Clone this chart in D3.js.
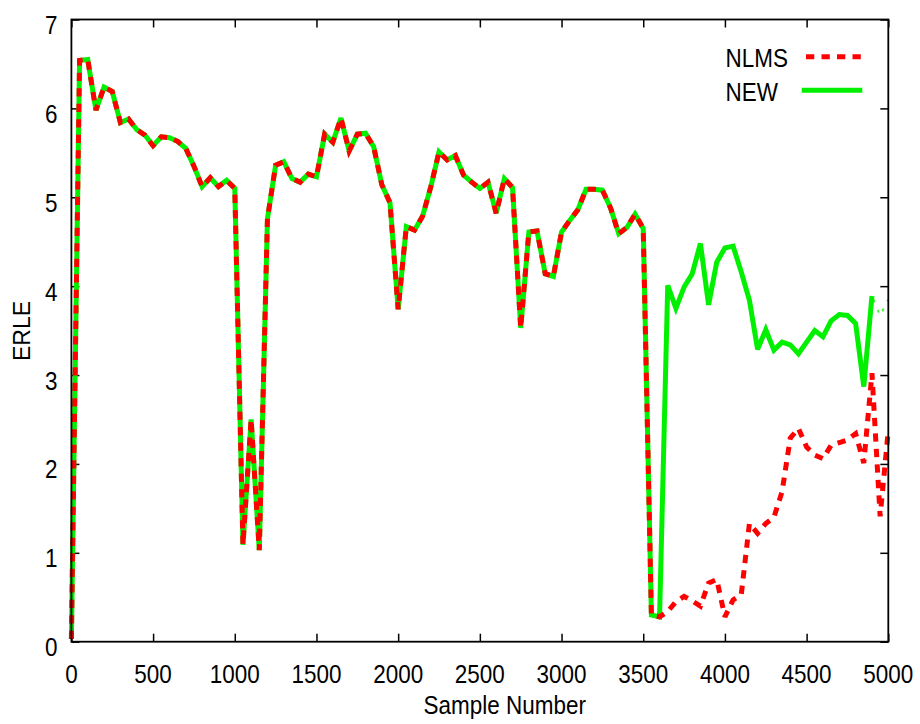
<!DOCTYPE html>
<html><head><meta charset="utf-8">
<script src="https://cdn.jsdelivr.net/npm/d3@7"></script>
<style>
body{margin:0;background:#fff}
svg{display:block}
text{font-family:"Liberation Sans",Arial,Helvetica,sans-serif;fill:#000}
</style>
</head><body>
<svg id="chart" width="920" height="724"></svg>
<script>
// ---- data ----
const sampleNumbers = [0,50,100,150,200,250,300,350,400,450,500,550,600,650,700,750,800,850,900,950,
  1000,1050,1100,1150,1200,1250,1300,1350,1400,1450,1500,1550,1600,1650,1700,1750,1800,1850,1900,1950,
  2000,2050,2100,2150,2200,2250,2300,2350,2400,2450,2500,2550,2600,2650,2700,2750,2800,2850,2900,2950,
  3000,3050,3100,3150,3200,3250,3300,3350,3400,3450,3500,3550,3600,3650,3700,3750,3800,3850,3900,3950,
  4000,4050,4100,4150,4200,4250,4300,4350,4400,4450,4500,4550,4600,4650,4700,4750,4800,4850,4900,4950,5000];

// both algorithms coincide up to sample 3600
const commonERLE = [0.03,6.54,6.55,5.98,6.24,6.19,5.84,5.88,5.76,5.70,5.58,5.68,5.67,5.63,5.55,5.35,5.12,5.22,5.12,5.19,
  5.10,1.09,2.50,1.03,4.76,5.36,5.40,5.21,5.17,5.26,5.23,5.71,5.62,5.89,5.52,5.71,5.72,5.57,5.14,4.94,
  3.74,4.67,4.63,4.79,5.12,5.51,5.42,5.47,5.25,5.17,5.10,5.17,4.82,5.21,5.11,3.53,4.61,4.62,4.14,4.11,
  4.61,4.74,4.86,5.09,5.09,5.08,4.88,4.59,4.66,4.81,4.65,0.30,0.28];

const nlmsTail = [0.34,0.45,0.51,0.46,0.40,0.66,0.70,0.28,0.47,0.53,1.33,1.22,1.33,1.40,1.69,2.29,2.40,2.19,2.10,2.06,
  2.21,2.24,2.27,2.34,2.01,3.02,1.41,2.38];
const newTail = [4.01,3.75,3.99,4.14,4.48,3.79,4.27,4.43,4.45,4.16,3.84,3.29,3.51,3.28,3.37,3.34,3.24,3.37,3.50,3.43,
  3.61,3.68,3.67,3.58,2.87,3.89,3.67,3.85];

const nlmsERLE = commonERLE.concat(nlmsTail);
const newERLE = commonERLE.concat(newTail);

const xTicks = [0,500,1000,1500,2000,2500,3000,3500,4000,4500,5000];
const yTicks = [0,1,2,3,4,5,6,7];
const seriesNames = ["NLMS","NEW"];
const seriesColors = ["#ff0000","#00f000"];
const xLabel = "Sample Number";
const yLabel = "ERLE";

// ---- layout ----
const plot = {left:71.4, right:888.3, top:19.5, bottom:641.7};
const stretch = 1.12;
const fontSize = 22.5;

const svg = d3.select("#chart");
const x = d3.scaleLinear().domain([0,5000]).range([plot.left, plot.right]);
const y = d3.scaleLinear().domain([0,7]).range([plot.bottom, plot.top]);

function styleAxis(g){
  g.select(".domain").remove();
  g.selectAll(".tick line").attr("stroke","#000").attr("stroke-width",1.5);
}
svg.append("g").attr("transform",`translate(0,${plot.bottom})`)
  .call(d3.axisBottom(x).tickValues(xTicks).tickSize(-8).tickFormat("")).call(styleAxis);
svg.append("g").attr("transform",`translate(0,${plot.top})`)
  .call(d3.axisTop(x).tickValues(xTicks).tickSize(-8).tickFormat("")).call(styleAxis);
svg.append("g").attr("transform",`translate(${plot.left},0)`)
  .call(d3.axisLeft(y).tickValues(yTicks).tickSize(-8).tickFormat("")).call(styleAxis);
svg.append("g").attr("transform",`translate(${plot.right},0)`)
  .call(d3.axisRight(y).tickValues(yTicks).tickSize(-8).tickFormat("")).call(styleAxis);

// lines
const pts = vals => vals.map((v,i)=>[sampleNumbers[i], v]);
const line = d3.line().x(d=>x(d[0])).y(d=>y(d[1]));

const newPts = pts(newERLE);
const cut = sampleNumbers.indexOf(4900);
svg.append("path").attr("d", line(newPts.slice(0, cut+1)))
  .attr("fill","none").attr("stroke",seriesColors[1]).attr("stroke-width",5)
  .attr("stroke-linejoin","miter").attr("stroke-miterlimit",3);
// faint, broken tail of NEW
svg.append("path").attr("d", line(newPts.slice(cut)))
  .attr("fill","none").attr("stroke",seriesColors[1]).attr("stroke-width",2)
  .attr("stroke-dasharray","3,8").attr("stroke-dashoffset",-4).attr("opacity",0.75);

svg.append("path").attr("d", line(pts(nlmsERLE)))
  .attr("fill","none").attr("stroke",seriesColors[0]).attr("stroke-width",5)
  .attr("stroke-dasharray","8.3,7.2").attr("stroke-linejoin","miter").attr("stroke-miterlimit",3);

// frame
svg.append("rect").attr("x",plot.left).attr("y",plot.top)
  .attr("width",plot.right-plot.left).attr("height",plot.bottom-plot.top)
  .attr("fill","none").attr("stroke","#000").attr("stroke-width",1.8);

// text helper
function txt(px, py, s, anchor){
  return svg.append("text").attr("transform",`translate(${px},${py}) scale(1,${stretch})`)
    .attr("text-anchor",anchor).attr("font-size",fontSize).text(s);
}
xTicks.forEach(t => txt(x(t), 683, String(t), "middle"));
yTicks.forEach(t => txt(57.5, y(t)+14.5, String(t), "end"));
txt((plot.left+plot.right)/2 + 25, 714, xLabel, "middle");
svg.append("text").attr("transform",`translate(30,331) rotate(-90)`)
  .attr("text-anchor","middle").attr("font-size",23).text(yLabel);

// legend
const legRows = [56.7, 90.2];
seriesNames.forEach((name,i)=>{
  txt(725.5, legRows[i]+10.5, name, "start");
});
svg.append("line").attr("x1",806).attr("x2",862).attr("y1",legRows[0]).attr("y2",legRows[0])
  .attr("stroke",seriesColors[0]).attr("stroke-width",5).attr("stroke-dasharray","8.3,7.2");
svg.append("line").attr("x1",801.7).attr("x2",862.3).attr("y1",legRows[1]).attr("y2",legRows[1])
  .attr("stroke",seriesColors[1]).attr("stroke-width",5);
</script>
</body></html>
